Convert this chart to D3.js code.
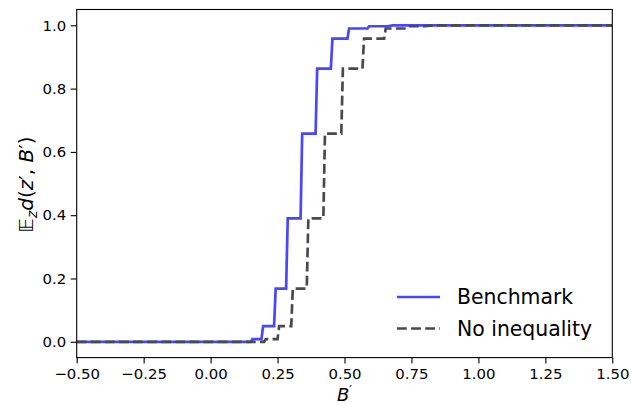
<!DOCTYPE html>
<html><head><meta charset="utf-8">
<script src="https://cdn.jsdelivr.net/npm/d3@7"></script>
<style>body{margin:0;background:#fff;} text{font-family:"DejaVu Sans",sans-serif;fill:#000;}</style>
</head><body>
<svg id="c" width="631" height="405"></svg>
<script>
const xTicks = [-0.5,-0.25,0,0.25,0.5,0.75,1.0,1.25,1.5];
const yTicks = [0,0.2,0.4,0.6,0.8,1.0];
const benchX = [-0.5,0.150,0.156,0.190,0.196,0.237,0.243,0.282,0.288,0.336,0.342,0.392,0.398,0.449,0.455,0.511,0.517,0.586,0.592,0.66,0.68,1.5];
const benchY = [0,0,0.0085,0.0085,0.0495,0.0495,0.168,0.168,0.390,0.390,0.658,0.658,0.863,0.863,0.958,0.958,0.990,0.990,0.997,0.997,1.0,1.0];
const noIneqX = [-0.5,0.200,0.206,0.250,0.256,0.301,0.307,0.359,0.365,0.421,0.427,0.488,0.494,0.567,0.573,0.648,0.654,0.730,0.736,0.80,0.83,1.5];
const noIneqY = [0,0,0.0085,0.0085,0.0495,0.0495,0.168,0.168,0.390,0.390,0.658,0.658,0.863,0.863,0.958,0.958,0.990,0.990,0.997,0.997,1.0,1.0];
const seriesNames = ["Benchmark","No inequality"];

const svg = d3.select("#c");
const L=76.7,R=612.3,T=9.5,B=357.6;
const x = d3.scaleLinear().domain([-0.5,1.5]).range([L,R]);
const y = d3.scaleLinear().domain([-0.05,1.05]).range([B,T]);
const fmtX = d => d3.format(".2f")(d).replace("-","\u2212");
const fmtY = d => d3.format(".1f")(d);

const line = d3.line().x(d=>x(d[0])).y(d=>y(d[1]));
svg.append("defs").append("clipPath").attr("id","cp").append("rect").attr("x",L).attr("y",T).attr("width",R-L).attr("height",B-T);
const g = svg.append("g").attr("clip-path","url(#cp)");
g.append("path").datum(benchX.map((v,i)=>[v,benchY[i]])).attr("d",line)
 .attr("fill","none").attr("stroke","#4747ff").attr("stroke-width",2.7).attr("stroke-linejoin","miter");
g.append("path").datum(noIneqX.map((v,i)=>[v,noIneqY[i]])).attr("d",line)
 .attr("fill","none").attr("stroke","#4a4a4a").attr("stroke-width",2.7).attr("stroke-dasharray","9.8,4.3");

const ax = svg.append("g").attr("transform",`translate(0,${B})`)
 .call(d3.axisBottom(x).tickValues(xTicks).tickFormat(fmtX).tickSize(6).tickPadding(5));
const ay = svg.append("g").attr("transform",`translate(${L},0)`)
 .call(d3.axisLeft(y).tickValues(yTicks).tickFormat(fmtY).tickSize(6).tickPadding(4.5));
[ax,ay].forEach(a=>{a.select(".domain").remove();a.selectAll("line").attr("stroke","#000").attr("stroke-width",1.1);
 a.selectAll("text").style("font-family","DejaVu Sans").style("font-size","14.9px").attr("fill","#000");});
svg.append("rect").attr("x",L).attr("y",T).attr("width",R-L).attr("height",B-T).attr("fill","none").attr("stroke","#000").attr("stroke-width",1.1);

// axis labels
const xl = svg.append("text").attr("x",(L+R)/2).attr("y",400.5).attr("text-anchor","middle").style("font-size","18px");
xl.append("tspan").attr("font-style","italic").text("B");
xl.append("tspan").attr("dy",-7).style("font-size","12px").text("\u2032");
const yl = svg.append("text").attr("transform",`translate(33,${(T+B)/2+1}) rotate(-90)`).attr("text-anchor","middle").style("font-size","20px");
yl.append("tspan").text("\uD835\uDD3C");
yl.append("tspan").attr("font-style","italic").attr("dy",3.5).style("font-size","14px").text("z");
yl.append("tspan").attr("font-style","italic").attr("dy",-3.5).text("d");
yl.append("tspan").text("(");
yl.append("tspan").attr("font-style","italic").text("z");
yl.append("tspan").text("\u2032, ");
yl.append("tspan").attr("font-style","italic").text("B");
yl.append("tspan").text("\u2032)");

// legend
const leg = [{n:seriesNames[0],c:"#4747ff",d:null,yy:297},{n:seriesNames[1],c:"#4a4a4a",d:"9.8,4.3",yy:328.5}];
leg.forEach(l=>{
 svg.append("line").attr("x1",397).attr("x2",440).attr("y1",l.yy).attr("y2",l.yy).attr("stroke",l.c).attr("stroke-width",2.7).attr("stroke-dasharray",l.d);
 svg.append("text").attr("x",457).attr("y",l.yy+7.3).style("font-size","20.4px").text(l.n);
});
</script>
</body></html>
